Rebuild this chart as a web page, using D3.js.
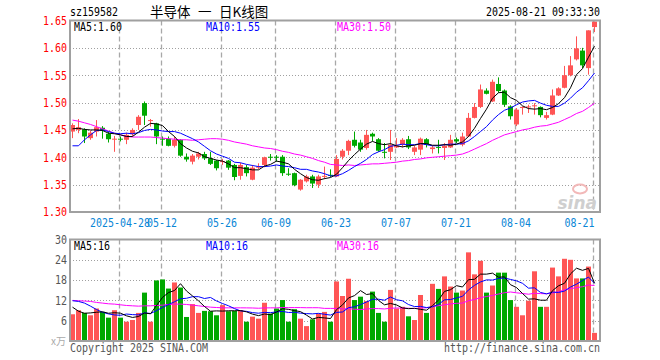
<!DOCTYPE html>
<html>
<head>
<meta charset="utf-8">
<script src="https://cdn.jsdelivr.net/npm/d3@7"></script>
<style>
  body { margin: 0; background: #fff; }
</style>
</head>
<body>
<script>
// daily K data (88 trading days, 2025-04-16 .. 2025-08-21)
var open = [1.447,1.450,1.451,1.435,1.447,1.454,1.443,1.433,1.434,1.432,
            1.442,1.459,1.499,1.467,1.462,1.434,1.434,1.421,1.432,1.401,
            1.392,1.401,1.406,1.398,1.394,1.392,1.394,1.386,1.366,1.382,
            1.359,1.381,1.386,1.401,1.401,1.401,1.370,1.371,1.341,1.356,
            1.365,1.350,1.365,1.368,1.365,1.401,1.412,1.432,1.427,1.417,
            1.443,1.433,1.410,1.410,1.418,1.423,1.433,1.410,1.414,1.433,
            1.415,1.419,1.417,1.418,1.433,1.423,1.438,1.472,1.492,1.522,
            1.502,1.534,1.522,1.493,1.460,1.490,1.492,1.494,1.492,1.472,
            1.478,1.513,1.527,1.550,1.579,1.595,1.563,1.638];
var high = [1.462,1.470,1.453,1.449,1.468,1.457,1.447,1.439,1.438,1.445,
            1.453,1.477,1.502,1.470,1.463,1.438,1.438,1.438,1.433,1.407,
            1.406,1.410,1.410,1.410,1.395,1.397,1.395,1.388,1.390,1.386,
            1.386,1.389,1.401,1.406,1.404,1.404,1.380,1.372,1.360,1.368,
            1.368,1.368,1.383,1.378,1.404,1.415,1.432,1.447,1.432,1.450,
            1.445,1.435,1.426,1.450,1.435,1.435,1.439,1.421,1.436,1.435,
            1.421,1.432,1.426,1.441,1.436,1.445,1.481,1.499,1.533,1.526,
            1.542,1.546,1.524,1.495,1.490,1.493,1.496,1.499,1.493,1.483,
            1.524,1.528,1.567,1.585,1.621,1.600,1.632,1.648];
var low  = [1.435,1.444,1.426,1.432,1.438,1.434,1.427,1.410,1.429,1.424,
            1.438,1.450,1.459,1.456,1.424,1.421,1.420,1.418,1.401,1.392,
            1.387,1.396,1.395,1.386,1.376,1.386,1.377,1.358,1.359,1.365,
            1.358,1.378,1.382,1.394,1.392,1.366,1.366,1.347,1.339,1.354,
            1.344,1.344,1.360,1.364,1.364,1.396,1.404,1.418,1.410,1.414,
            1.429,1.410,1.398,1.395,1.417,1.418,1.415,1.404,1.404,1.418,
            1.407,1.407,1.395,1.417,1.426,1.420,1.437,1.471,1.490,1.515,
            1.501,1.518,1.492,1.469,1.457,1.478,1.481,1.478,1.473,1.469,
            1.477,1.512,1.526,1.548,1.577,1.563,1.551,1.629];
var close = [1.459,1.455,1.438,1.445,1.455,1.450,1.433,1.434,1.433,1.441,
             1.450,1.474,1.476,1.468,1.438,1.433,1.421,1.432,1.403,1.396,
             1.403,1.407,1.398,1.388,1.380,1.393,1.381,1.364,1.386,1.371,
             1.381,1.383,1.400,1.400,1.400,1.371,1.369,1.349,1.359,1.365,
             1.352,1.365,1.366,1.366,1.397,1.412,1.430,1.421,1.414,1.441,
             1.438,1.412,1.409,1.423,1.421,1.432,1.418,1.418,1.434,1.423,
             1.418,1.418,1.421,1.432,1.429,1.438,1.472,1.492,1.524,1.516,
             1.538,1.521,1.496,1.475,1.487,1.492,1.493,1.495,1.477,1.477,
             1.513,1.526,1.550,1.568,1.599,1.568,1.632,1.648];

// moving averages as drawn on the chart
var ma5  = [1.452,1.453,1.451,1.450,1.450,1.449,1.444,1.443,1.441,1.438,
            1.438,1.446,1.455,1.462,1.461,1.458,1.447,1.438,1.425,1.417,
            1.411,1.408,1.401,1.398,1.395,1.393,1.388,1.381,1.381,1.379,
            1.377,1.377,1.384,1.387,1.393,1.391,1.388,1.378,1.370,1.363,
            1.359,1.358,1.361,1.363,1.369,1.381,1.394,1.405,1.415,1.424,
            1.429,1.425,1.423,1.425,1.421,1.419,1.421,1.422,1.425,1.425,
            1.422,1.422,1.423,1.422,1.424,1.428,1.438,1.453,1.471,1.488,
            1.508,1.518,1.519,1.509,1.504,1.494,1.489,1.488,1.489,1.487,
            1.491,1.498,1.509,1.527,1.551,1.562,1.583,1.603];
var ma10 = [1.421,1.421,1.432,1.441,1.449,1.450,1.447,1.444,1.443,1.444,
            1.443,1.445,1.449,1.451,1.450,1.448,1.447,1.447,1.444,1.439,
            1.434,1.428,1.420,1.412,1.406,1.402,1.398,1.391,1.390,1.387,
            1.385,1.383,1.383,1.384,1.386,1.384,1.383,1.381,1.378,1.378,
            1.375,1.373,1.370,1.366,1.366,1.370,1.376,1.383,1.389,1.396,
            1.405,1.410,1.414,1.420,1.422,1.424,1.423,1.423,1.425,1.423,
            1.421,1.421,1.423,1.424,1.424,1.425,1.430,1.438,1.447,1.456,
            1.468,1.478,1.486,1.490,1.496,1.501,1.503,1.504,1.499,1.495,
            1.493,1.493,1.499,1.508,1.519,1.527,1.540,1.554];
var ma30 = [1.468,1.466,1.463,1.460,1.456,1.452,1.448,1.444,1.441,1.438,
            1.437,1.437,1.437,1.437,1.436,1.435,1.434,1.433,1.432,1.432,
            1.431,1.432,1.433,1.434,1.434,1.433,1.431,1.428,1.426,1.424,
            1.421,1.419,1.417,1.416,1.414,1.411,1.409,1.406,1.404,1.401,
            1.398,1.394,1.391,1.387,1.386,1.385,1.386,1.385,1.386,1.387,
            1.388,1.388,1.389,1.390,1.391,1.393,1.394,1.396,1.397,1.399,
            1.400,1.401,1.402,1.403,1.404,1.406,1.410,1.415,1.420,1.425,
            1.431,1.436,1.441,1.444,1.447,1.450,1.452,1.455,1.457,1.458,
            1.461,1.464,1.469,1.474,1.480,1.484,1.491,1.499];

// volume, x万
var volume = [7.9,9.1,8.3,7.6,9.6,8.6,6.9,9.1,6.9,5.7,
              6.2,8.3,14.3,5.7,17.9,18.2,15.5,17.3,15.8,7.1,
              10.9,8.3,8.9,8.8,7.6,10.6,8.8,8.9,9.1,5.7,
              7.2,6.6,11.3,8.1,9.6,12.1,5.7,9.4,6.6,4.4,
              6.4,8.1,8.6,5.7,17.6,13.3,18.4,12.1,13.1,11.8,
              14.6,8.3,5.7,15.1,9.6,10.1,7.3,6.2,13.6,8.3,
              16.9,15.4,19.1,16.1,14.3,14.9,26.2,19.7,23.7,14.3,
              16.4,20.2,20.2,12.1,10.1,7.6,11.9,20.6,10.1,10.1,
              21.7,19.1,24.3,24.0,18.5,18.5,22.0,2.4];
var vma5  = [10.0,8.8,8.2,8.3,8.5,8.64,8.2,8.36,8.22,7.44,
             6.96,7.24,8.28,8.04,10.48,12.88,14.32,14.92,16.94,14.78,
             13.32,11.88,10.2,8.8,8.9,8.84,8.94,8.94,9.0,8.62,
             7.94,7.5,7.98,7.78,8.56,9.54,9.36,8.98,8.68,7.64,
             6.5,6.98,6.82,6.64,9.28,10.66,12.72,13.42,14.9,13.74,
             14.0,11.98,10.7,11.1,10.66,9.76,9.56,9.66,9.36,9.1,
             10.46,12.08,14.66,15.16,16.36,15.96,18.12,18.24,19.76,19.76,
             20.06,18.86,18.96,16.64,15.8,14.04,12.38,12.46,12.06,12.06,
             14.88,16.32,17.06,19.84,21.52,20.88,21.46,17.08];
var vma10 = [11.9,11.7,11.2,10.3,9.3,8.5,8.0,7.7,7.6,7.97,
             7.8,7.72,8.32,8.13,8.96,9.92,10.78,11.6,12.49,12.63,
             13.1,13.1,12.56,12.87,11.84,11.08,10.41,9.57,8.9,8.76,
             8.39,8.22,8.46,8.39,8.59,8.74,8.43,8.48,8.23,8.1,
             8.02,8.17,7.9,7.66,8.46,8.58,9.85,10.12,10.77,11.51,
             12.33,12.35,12.06,13.0,12.2,11.88,10.77,10.18,10.23,9.88,
             10.11,10.82,12.16,12.26,12.73,13.21,15.1,16.45,17.46,18.06,
             18.01,18.49,18.6,18.2,17.78,17.05,15.62,15.71,14.35,13.93,
             14.46,14.35,14.76,15.95,16.79,17.88,18.89,17.07];
var vma30 = [12.0,11.9,11.8,11.7,11.4,11.2,11.0,10.9,10.7,10.5,
             10.4,10.3,10.4,10.4,10.5,10.6,10.8,10.9,10.9,10.8,
             10.6,10.4,10.2,10.0,9.9,9.8,9.8,9.8,9.8,9.79,
             9.76,9.68,9.78,9.8,9.8,9.91,9.87,9.88,9.87,9.83,
             9.84,9.83,9.64,9.64,9.63,9.47,9.56,9.39,9.3,9.46,
             9.58,9.58,9.47,9.68,9.75,9.73,9.68,9.59,9.74,9.83,
             10.15,10.45,10.71,10.97,11.13,11.22,11.91,12.25,12.82,13.15,
             13.48,13.89,14.27,14.49,14.24,14.05,13.83,14.11,14.01,13.96,
             14.19,14.55,15.17,15.47,15.77,16.05,16.54,16.41];

var priceTicks = [1.30,1.35,1.40,1.45,1.50,1.55,1.60,1.65];
var volTicks = [6,12,18,24,30];
var dateIdx = [8,15,25,34,44,54,64,74,87];
var dateLabels = ["2025-04-28","05-12","05-26","06-09","06-23","07-07","07-21","08-04","08-21"];
var priceMaText = ["MA5:1.60","MA10:1.55","MA30:1.50"];
var volMaText = ["MA5:16","MA10:16","MA30:16"];

var RED = "#ff5555", GREEN = "#00a800", MONO = "'DejaVu Sans Mono', 'Liberation Mono', monospace";
var maColors = ["#000000", "#0000ff", "#ff00ff"];

var width = 660, height = 360;
var left = 70, right = 600;
var pTop = 20.5, pBottom = 212;
var vTop = 239.5, vBottom = 341;

var svg = d3.select("body").append("svg").attr("width", width).attr("height", height);

var x = d3.scaleLinear().domain([0, open.length - 1]).range([72.5, 594.5]);
var y = d3.scaleLinear().domain([1.30, 1.65]).range([pBottom, pTop]);
var yv = d3.scaleLinear().domain([0, 30]).range([vBottom, vTop]);

// squeeze text into 6px per character like the bitmap font
function mono(sel, size){
    sel.style("font-family", MONO)
       .style("font-size", size + "px")
       .attr("textLength", function(){ return this.textContent.length * 6; })
       .attr("lengthAdjust", "spacingAndGlyphs");
}

function panel(top, bottom, scale, ticks){
    var g = svg.append("g");
    // dotted horizontal grid
    g.selectAll("line.h").data(ticks).enter().append("line")
        .attr("x1", left).attr("x2", right)
        .attr("y1", function(d){ return Math.round(scale(d)) + 0.5; })
        .attr("y2", function(d){ return Math.round(scale(d)) + 0.5; })
        .attr("stroke", "#a0a0a0").attr("stroke-dasharray", "1,2");
    // dashed vertical grid at date ticks
    g.selectAll("line.v").data(dateIdx).enter().append("line")
        .attr("x1", function(d){ return x(d) - 1; })
        .attr("x2", function(d){ return x(d) - 1; })
        .attr("y1", top).attr("y2", bottom)
        .attr("stroke", "#a8a8a8").attr("stroke-width", 1.3).attr("stroke-dasharray", "5,3");
    return g;
}

// ---------- price panel ----------
panel(pTop, pBottom, y, priceTicks.slice(1, -1));

// sina watermark
svg.append("ellipse").attr("cx", 580).attr("cy", 189).attr("rx", 7).attr("ry", 4.5)
    .attr("fill", "none").attr("stroke", "#f2b8b8").attr("stroke-width", 2);
svg.append("text").attr("x", 597).attr("y", 209).attr("text-anchor", "end")
    .style("font-family", "'DejaVu Sans', sans-serif").style("font-size", "17px")
    .style("font-weight", "bold").style("font-style", "italic")
    .attr("fill", "#cfcfcf").text("sina");

var candles = svg.append("g");
open.forEach(function(o, i){
    var c = close[i];
    var color = c >= o ? RED : GREEN;
    var cx = x(i);
    candles.append("line")
        .attr("x1", cx).attr("x2", cx)
        .attr("y1", y(high[i])).attr("y2", y(low[i]))
        .attr("stroke", color);
    var top = y(Math.max(o, c)), bot = y(Math.min(o, c));
    candles.append("rect")
        .attr("x", cx - 2.5).attr("width", 5)
        .attr("y", top).attr("height", Math.max(1, bot - top))
        .attr("fill", color);
});

var line = d3.line().x(function(d, i){ return x(i); }).y(function(d){ return y(d); });
[ma30, ma10, ma5].forEach(function(m, k){
    svg.append("path").attr("d", line(m)).attr("fill", "none")
        .attr("stroke", maColors[2 - k]).attr("stroke-width", 1);
});

svg.append("rect").attr("x", left).attr("y", pTop).attr("width", right - left).attr("height", pBottom - pTop)
    .attr("fill", "none").attr("stroke", "#a0a0a0").attr("stroke-width", 2);

// price labels
svg.append("g").attr("transform", "translate(" + left + ",0)")
    .call(d3.axisLeft(y).tickValues(priceTicks).tickFormat(d3.format(".2f")).tickSize(0).tickPadding(3))
    .call(function(g){ g.select(".domain").remove(); })
    .selectAll("text").attr("fill", "#ff0000").call(mono, 12);

// date labels, the last one is pulled back inside the frame
svg.append("g").attr("transform", "translate(-1," + pBottom + ")")
    .call(d3.axisBottom(x).tickValues(dateIdx)
        .tickFormat(function(d, i){ return dateLabels[i]; }).tickSize(0).tickPadding(6))
    .call(function(g){ g.select(".domain").remove(); })
    .selectAll("text").attr("fill", "#0a86d6").call(mono, 12)
    .attr("x", function(d){
        var w = this.textContent.length * 6, over = x(d) - 1 + w / 2 - (right - 6);
        return over > 0 ? -over : 0;
    });

// ---------- volume panel ----------
panel(vTop, vBottom, yv, volTicks.slice(0, -1));

var bars = svg.append("g");
volume.forEach(function(v, i){
    bars.append("rect")
        .attr("x", x(i) - 2.5).attr("width", 5)
        .attr("y", yv(v)).attr("height", yv(0) - yv(v))
        .attr("fill", close[i] >= open[i] ? RED : GREEN);
});

var vline = d3.line().x(function(d, i){ return x(i); }).y(function(d){ return yv(d); });
[vma30, vma10, vma5].forEach(function(m, k){
    svg.append("path").attr("d", vline(m)).attr("fill", "none")
        .attr("stroke", maColors[2 - k]).attr("stroke-width", 1);
});

svg.append("rect").attr("x", left).attr("y", vTop).attr("width", right - left).attr("height", vBottom - vTop)
    .attr("fill", "none").attr("stroke", "#a0a0a0").attr("stroke-width", 2);

svg.append("g").attr("transform", "translate(" + left + ",0)")
    .call(d3.axisLeft(yv).tickValues(volTicks).tickSize(0).tickPadding(3))
    .call(function(g){ g.select(".domain").remove(); })
    .selectAll("text").attr("fill", "#555").call(mono, 12);

// ---------- texts ----------
function label(tx, ty, str, color, anchor){
    return svg.append("text").attr("x", tx).attr("y", ty).attr("fill", color)
        .attr("text-anchor", anchor || "start").text(str).call(mono, 12);
}
function cjk(tx, ty, str, size, color){
    return svg.append("text").attr("x", tx).attr("y", ty).attr("fill", color)
        .style("font-family", "'Noto Sans CJK SC', sans-serif").style("font-size", size + "px")
        .text(str);
}
label(70, 16, "sz159582", "#000");
cjk(150, 17, "半导体", 13.5, "#000");
cjk(198, 17, "一", 13.5, "#000");
cjk(219, 17, "日K线图", 13.5, "#000");
label(600, 16, "2025-08-21 09:33:30", "#000", "end");

var maX = [74, 206, 337];
priceMaText.forEach(function(t, k){ label(maX[k], 31, t, maColors[k]); });
volMaText.forEach(function(t, k){ label(maX[k], 250, t, maColors[k]); });

svg.append("text").attr("x", 66).attr("y", 345).attr("text-anchor", "end").attr("fill", "#aaa")
    .style("font-family", "'Noto Sans CJK SC', sans-serif").style("font-size", "10px").text("x万");
label(70, 352, "Copyright 2025 SINA.COM", "#555");
label(600, 352, "http://finance.sina.com.cn", "#555", "end");
</script>
</body>
</html>
